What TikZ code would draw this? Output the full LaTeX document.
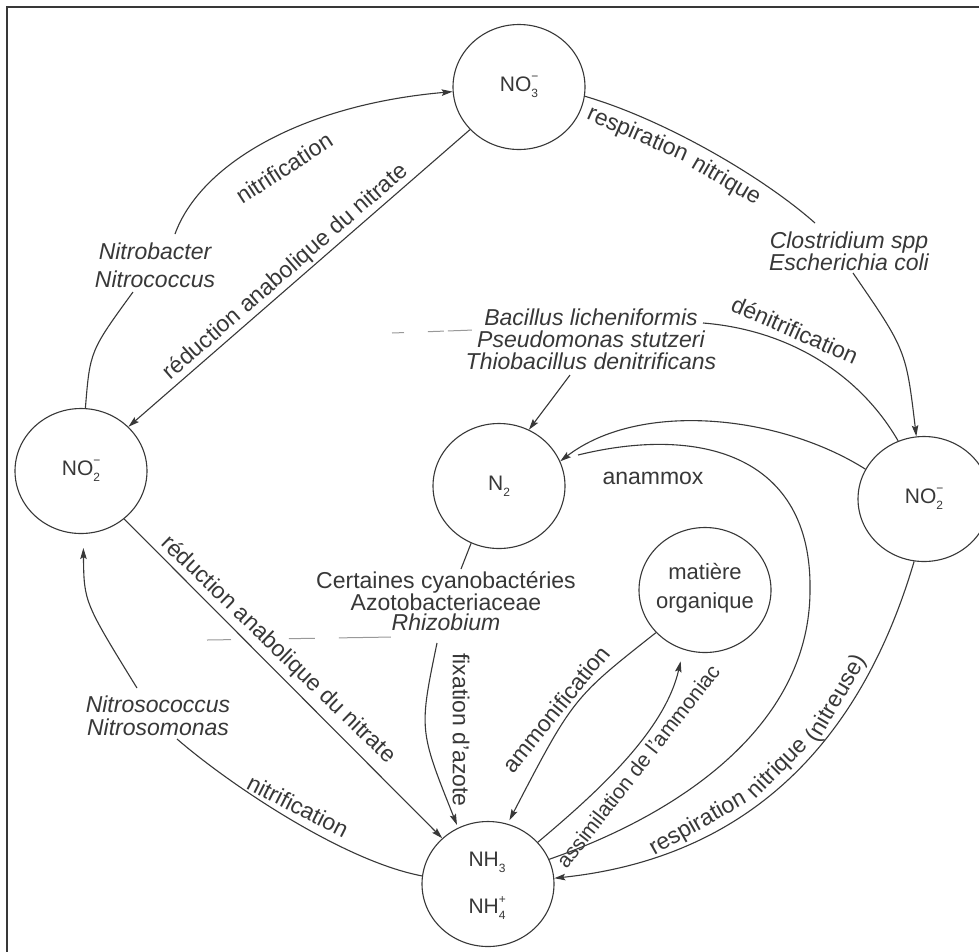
\documentclass[tikz,border=0pt]{standalone}
\usepackage{fontspec}
\setmainfont{Liberation Sans}
\usetikzlibrary{arrows.meta,shapes.geometric}
\definecolor{ink}{HTML}{383838}
\newcommand{\lblfont}{\fontsize{23}{22}\selectfont}
\newcommand{\chemsub}[1]{\raisebox{-0.55ex}{\fontsize{12}{12}\selectfont #1}}
\newcommand{\chemion}[3]{#1\rlap{\raisebox{0.95ex}{\fontsize{12}{12}\selectfont #3}}\chemsub{#2}}
\tikzset{
  species/.style={ellipse, draw=ink, line width=1.1pt, minimum width=132pt, minimum height=125pt, inner sep=0pt, text=ink, font=\fontsize{21}{24}\selectfont},
  lbl/.style={text=ink, font=\lblfont, inner sep=0pt},
  org/.style={text=ink, font=\lblfont\itshape, inner sep=0pt, align=center},
  link/.style={draw=ink, line width=1.1pt},
  flow/.style={link, -{Stealth[length=11pt,width=6.5pt,inset=2pt]}},
  scan/.style={draw=black!40, line width=1pt},
}
\begin{document}
\begin{tikzpicture}[x=1pt,y=-1pt]
\useasboundingbox (0,0) rectangle (979,951);
\fill[white] (0,0) rectangle (979,951);
\draw[ink, line width=2.2pt] (7,955) -- (7,7) -- (985,7);

% species
\node[species] (no3) at (519,87) {\chemion{NO}{3}{−}};
\node[species] (no2l) at (81,471) {\chemion{NO}{2}{−}};
\node[species] (n2) at (499,486) {N\chemsub{2}};
\node[species] (no2r) at (924,499) {\chemion{NO}{2}{−}};
\node[species] (mo) at (705,590) {};
\node[lbl, align=center, font=\fontsize{22}{24}\selectfont] (mot) at (705,588) {matière\\[5pt]organique};
\node[species] (nh3) at (488,884) {};
\node[lbl, font=\fontsize{21}{24}\selectfont] (nh3t) at (487,862) {NH\chemsub{3}};
\node[lbl, font=\fontsize{21}{24}\selectfont] (nh4t) at (487,908) {\chemion{NH}{4}{+}};

% organism labels
\node[org] (nb) at (155,265) {Nitrobacter\\[6pt]Nitrococcus};
\node[org] (cl) at (849,251) {Clostridium spp\\Escherichia coli};
\node[org] (ba) at (591,339) {Bacillus licheniformis\\Pseudomonas stutzeri\\Thiobacillus denitrificans};
\node[org] (ns) at (158,716) {Nitrosococcus\\[1pt]Nitrosomonas};
\node[lbl, align=center, font=\fontsize{23}{20}\selectfont] (cy) at (446,601) {Certaines cyanobactéries\\Azotobacteriaceae\\\textit{Rhizobium}};

% junction coordinates
\coordinate (nbb) at (133,292);
\coordinate (nbt) at (175,234);
\coordinate (clt) at (815,223);
\coordinate (clb) at (853,273);
\coordinate (bar) at (703,323);
\coordinate (bab) at (570,375);
\coordinate (cyt) at (461,569);
\coordinate (cyb) at (437,643);
\coordinate (nst) at (137,688);
\coordinate (nsb) at (177,739);
\coordinate (anj) at (578,455);

% nitrification NO2- -> NO3-
\draw[link] (no2l.86) .. controls (90,351) .. (nbb);
\draw[flow] (nbt) .. controls (200,165) and (300,105) .. (no3.184);
\node[lbl, rotate=33] (tnit1) at (284,168) {nitrification};

% reduction anabolique NO3- -> NO2-
\draw[flow] (no3.221) -- (no2l.43);
\node[lbl, rotate=41] (tred1) at (286,272) {réduction anabolique du nitrate};

% respiration nitrique NO3- -> NO2-
\draw[link] (no3.-8) .. controls (663,119) and (762,176) .. (clt);
\node[lbl, rotate=-23.6] (tresp1a) at (637.5,135) {respiration};
\node[lbl, rotate=-30.2] (tresp1b) at (726,181.2) {nitrique};
\draw[flow] (clb) .. controls (906,350) .. (no2r.97);

% denitrification
\draw[link] (bar) .. controls (790,330) and (860,375) .. (no2r.114);
\node[lbl, rotate=-24] (tden) at (795,330) {dénitrification};
\draw[flow] (bab) .. controls (555,395) .. (n2.62);

% anammox
\draw[flow] (no2r.153) .. controls (780,415) and (640,400) .. (n2.22);
\draw[link] (nh3.22) .. controls (690,810) and (810,720) .. (810,590) .. controls (812,455) and (700,425) .. (anj);
\node[lbl] (tana) at (653,478) {anammox};

% fixation
\draw[link] (n2.244) -- (cyt);
\draw[flow, shorten >=3pt] (cyb) .. controls (419,730) .. (nh3.118);
\node[lbl, rotate=-90] (tfix) at (461,730) {fixation d'azote};

% reduction anabolique NO2- -> NH3
\draw[flow] (no2l.-48) -- (nh3.135);
\node[lbl, rotate=-44] (tred2) at (278,650) {réduction anabolique du nitrate};

% nitrification NH3 -> NO2-
\draw[link] (nh3.173) .. controls (343,861) and (229,784) .. (nsb);
\node[lbl, rotate=-27] (tnit2) at (298,806) {nitrification};
\draw[flow, shorten >=14pt] (nst) .. controls (84,602) .. (no2l.-88);

% ammonification / assimilation
\draw[flow, shorten >=4pt] (mo.221) .. controls (573,698) .. (nh3.72);
\node[lbl, rotate=51] (tamm) at (556,709) {ammonification};
\draw[flow, shorten >=12pt] (nh3.40) .. controls (600,790) and (665,730) .. (mo.250);
\node[lbl, rotate=52, font=\fontsize{21}{22}\selectfont] (tass) at (638,766) {assimilation de l'ammoniac};

% respiration nitrique (nitreuse)
\draw[flow] (no2r.-99) .. controls (857,755) and (737,859) .. (nh3.5);
\node[lbl, rotate=29.7] (tresp2a) at (698,824) {respiration};
\node[lbl, rotate=45] (tresp2b) at (778,768.5) {nitrique};
\node[lbl, rotate=59.4] (tresp2c) at (837,699) {(nitreuse)};

% faint scan marks
\draw[scan, dash pattern=on 12pt off 24pt on 16pt off 4pt on 24pt] (392,333) -- (474,330);
\draw[scan, dash pattern=on 24pt off 58pt on 26pt off 24pt on 52pt] (207,640) -- (393,637);
\end{tikzpicture}
\end{document}
